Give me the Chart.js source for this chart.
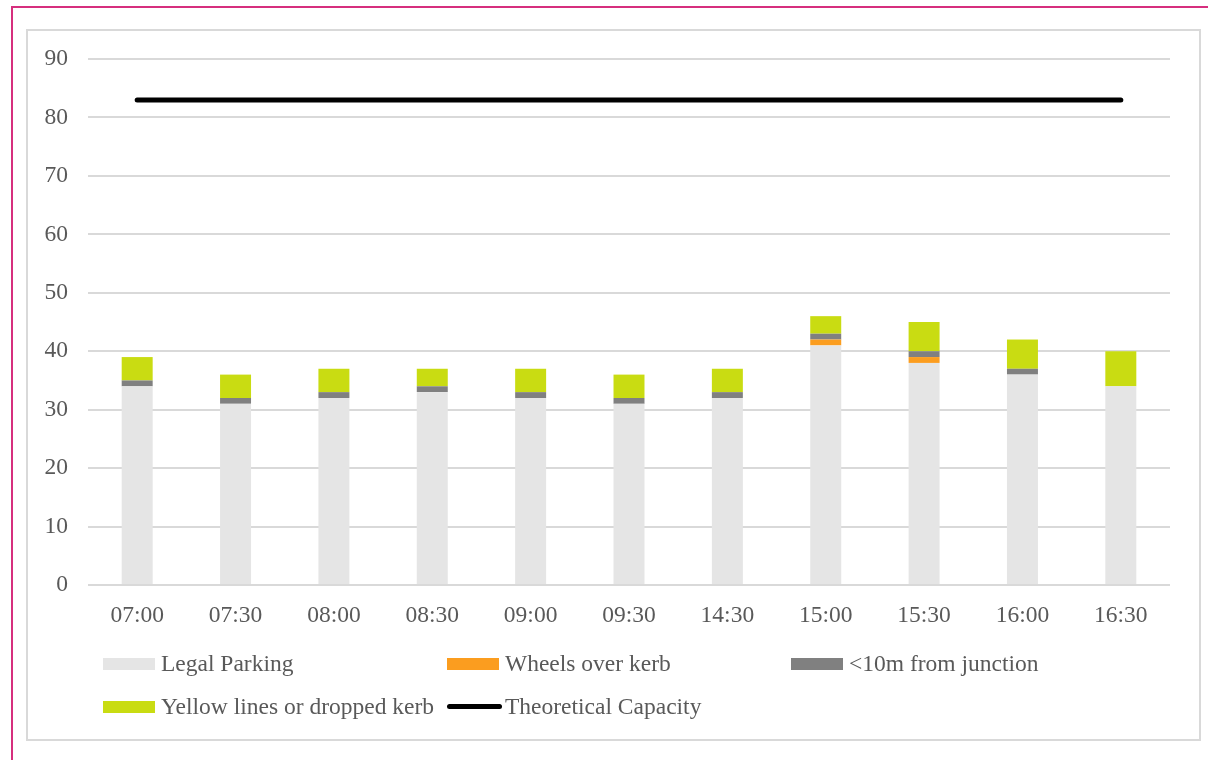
<!DOCTYPE html>
<html>
<head>
<meta charset="utf-8">
<script src="https://cdn.jsdelivr.net/npm/chart.js@4.4.1/dist/chart.umd.min.js"></script>
<style>
  html, body { margin: 0; padding: 0; background: #fff; }
  body { width: 1208px; height: 760px; position: relative; overflow: hidden; font-family: "Liberation Serif", "Times New Roman", serif; }
  #frame { position: absolute; left: 11px; top: 6px; width: 1300px; height: 800px; border: 2px solid #d62f7e; box-sizing: border-box; }
  #panel { position: absolute; left: 26px; top: 29px; width: 1175px; height: 712px; border: 2px solid #d9d9d9; box-sizing: border-box; background: #fff; }
  #wrap { position: absolute; left: 0; top: 0; width: 1208px; height: 760px; }
  #legend { position: absolute; left: 103px; top: 650px; display: grid; grid-template-columns: 344px 344px 344px; row-gap: 16px; color: #595959; font-size: 23.5px; }
  .item { display: flex; align-items: center; height: 27px; white-space: nowrap; }
  .sw { width: 52px; height: 12px; margin-right: 6px; flex: none; }
  .ln { width: 55px; height: 5px; border-radius: 3px; margin-right: 3px; flex: none; }
</style>
</head>
<body>
<div id="frame"></div>
<div id="panel"></div>
<div id="wrap"><canvas id="c" width="1208" height="760"></canvas></div>
<div id="legend"></div>
<script>
// Survey times
const times = ['07:00', '07:30', '08:00', '08:30', '09:00', '09:30', '14:30', '15:00', '15:30', '16:00', '16:30'];

// Parked vehicles by type at each survey time
const legalParking   = [34, 31, 32, 33, 32, 31, 32, 41, 38, 36, 34];
const wheelsOverKerb = [0, 0, 0, 0, 0, 0, 0, 1, 1, 0, 0];
const nearJunction   = [1, 1, 1, 1, 1, 1, 1, 1, 1, 1, 0];
const yellowLines    = [4, 4, 4, 3, 4, 4, 4, 3, 5, 5, 6];
const capacity       = [83, 83, 83, 83, 83, 83, 83, 83, 83, 83, 83];

const yTicks = [0, 10, 20, 30, 40, 50, 60, 70, 80, 90];

const textColor = '#595959';
const gridColor = '#d9d9d9';
const font = { family: '"Liberation Serif", "Times New Roman", serif', size: 23.5 };

const barCommon = { type: 'bar', stack: 'parked', borderWidth: 0, barPercentage: 0.315, categoryPercentage: 1 };

const chart = new Chart(document.getElementById('c'), {
  data: {
    labels: times,
    datasets: [
      { ...barCommon, label: 'Legal Parking', data: legalParking, backgroundColor: '#e5e5e5', order: 2 },
      { ...barCommon, label: 'Wheels over kerb', data: wheelsOverKerb, backgroundColor: '#fb9d1f', order: 2 },
      { ...barCommon, label: '<10m from junction', data: nearJunction, backgroundColor: '#808080', order: 2 },
      { ...barCommon, label: 'Yellow lines or dropped kerb', data: yellowLines, backgroundColor: '#c9dc12', order: 2 },
      { type: 'line', stack: 'capacity', label: 'Theoretical Capacity', data: capacity,
        borderColor: '#000', backgroundColor: '#000', borderWidth: 5, borderCapStyle: 'round',
        pointRadius: 0, pointHoverRadius: 0, fill: false, order: 1 }
    ]
  },
  options: {
    responsive: false,
    animation: false,
    layout: { padding: { left: 28, top: 59, right: 38, bottom: 115 } },
    plugins: { legend: { display: false }, tooltip: { enabled: false } },
    scales: {
      x: {
        stacked: true,
        grid: { display: false },
        border: { display: false },
        ticks: { color: textColor, font, padding: 9, maxRotation: 0 },
        afterFit(scale) { scale.height = 60; }
      },
      y: {
        stacked: true,
        min: 0,
        max: 90,
        afterBuildTicks(scale) { scale.ticks = yTicks.map(v => ({ value: v })); },
        grid: { color: gridColor, lineWidth: 2, drawTicks: false },
        border: { display: false },
        ticks: { color: textColor, font, padding: 20 },
        afterFit(scale) { scale.width = 60; }
      }
    }
  }
});

// Legend built from the chart's datasets
const legendEl = document.getElementById('legend');
chart.data.datasets.forEach(ds => {
  const item = document.createElement('div');
  item.className = 'item';
  const mark = document.createElement('span');
  if (ds.type === 'line') {
    mark.className = 'ln';
    mark.style.background = ds.borderColor;
  } else {
    mark.className = 'sw';
    mark.style.background = ds.backgroundColor;
  }
  const txt = document.createElement('span');
  txt.textContent = ds.label;
  item.appendChild(mark);
  item.appendChild(txt);
  legendEl.appendChild(item);
});
</script>
</body>
</html>
